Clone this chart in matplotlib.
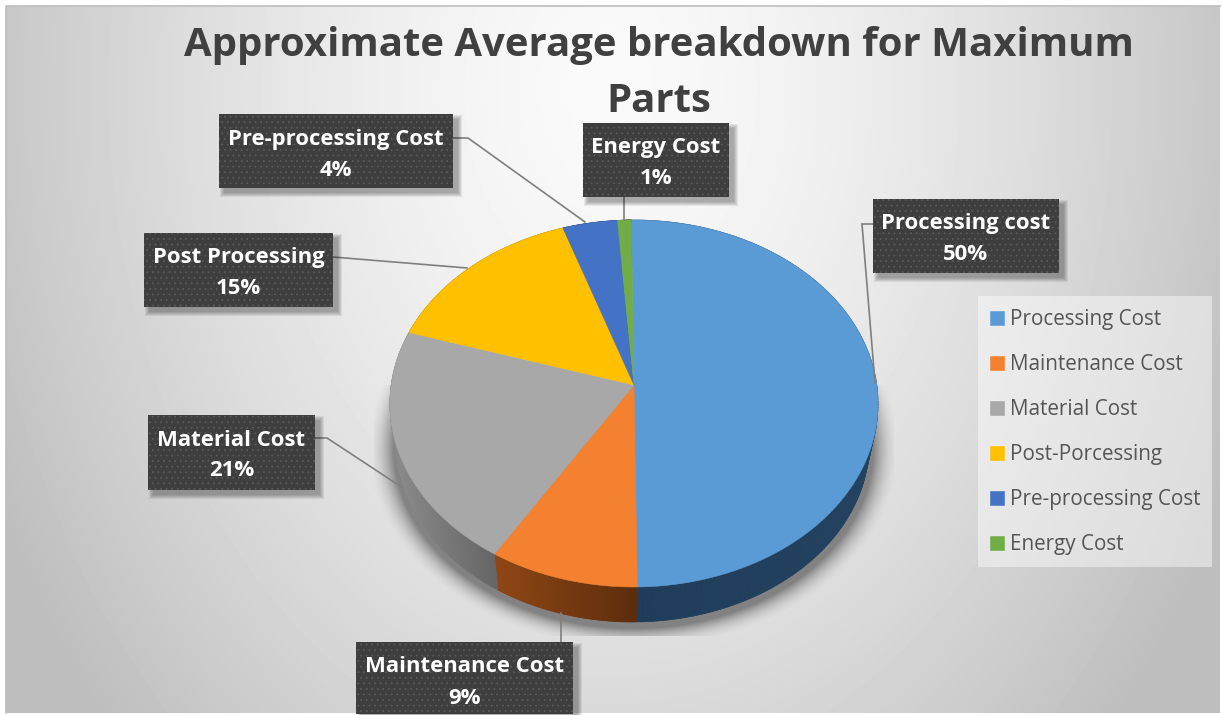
import matplotlib
matplotlib.use('Agg')
import matplotlib.pyplot as plt
from matplotlib.patches import Polygon, Rectangle
import numpy as np

plt.rcParams['font.family'] = ['Open Sans', 'DejaVu Sans']
plt.rcParams['hatch.linewidth'] = 0.6

# data
legend_names = ['Processing Cost', 'Maintenance Cost', 'Material Cost',
                'Post-Porcessing', 'Pre-processing Cost', 'Energy Cost']
label_names = ['Processing cost', 'Maintenance Cost', 'Material Cost',
               'Post Processing', 'Pre-processing Cost', 'Energy Cost']
values = [50, 9, 21, 15, 4, 1]
title = 'Approximate Average breakdown for Maximum\nParts'

# style
colors = ['#5B9BD5', '#F4812F', '#A8A8A8', '#FFC000', '#4472C4', '#70AD47']
wall_left = ['#1F3D5A', '#8F4715', '#8C8C8C', '#A67C00', '#2C4A80', '#48702E']
wall_right = ['#234260', '#5C2D0C', '#666666', '#A67C00', '#2C4A80', '#48702E']

W, H = 1223, 715
fig = plt.figure(figsize=(W / 100, H / 100), dpi=100, facecolor='white')
ax = fig.add_axes([0, 0, 1, 1])


def reset_limits():
    ax.set_xlim(0, W)
    ax.set_ylim(H, 0)
    ax.set_aspect('auto')
    ax.axis('off')


# background
yy, xx = np.mgrid[6:713, 6:1220]
t = np.sqrt(((xx - 610) / 620) ** 2 + ((yy - 90) / 850) ** 2) ** 1.5
bg = np.clip(250 - 52 * t, 190, 250) / 255
ax.imshow(bg, cmap='gray', vmin=0, vmax=1, extent=(6, 1220, 713, 6),
          aspect='auto', zorder=0)
ax.plot([6, 6, 1220], [713, 6, 6], color='#bdbdbd', lw=1.2, zorder=1)

# soft shadow under the pie
sy, sx = np.mgrid[385:636, 374:894]
d = (np.sqrt(((sx - 633) / 240) ** 2 + ((sy - 447) / 181) ** 2) - 1) * 210
alpha = 0.42 * np.clip(1 - d / 24, 0, 1) ** 2
rgba = np.zeros(sx.shape + (4,))
rgba[..., 3] = alpha
ax.imshow(rgba, extent=(374, 894, 636, 385), aspect='auto', zorder=1.5)

# perspective map of the unit disc to the top face
cx, cy, k = 634, 385, 0.1008
bx, by = 242.8, 181.6
start = 90.7


def project(u, v):
    w = 1 + k * v
    return cx + bx * u / w, cy - by * v / w


# rim of the base: same ellipse scaled down and moved lower
def to_base(x, y):
    return 632 + (x - 633) * 236 / 244, 444 + (y - 403.5) * 178 / 183.5


# top face: pie wedges pushed through the perspective map
wedges, _ = ax.pie(values, colors=colors, startangle=start, counterclock=False,
                   radius=1, center=(0, 0), frame=True)
reset_limits()
faces = []
for i, (w, c) in enumerate(zip(wedges, colors)):
    th = np.radians(np.linspace(w.theta1, w.theta2, 200))
    w.remove()
    # walls first, drawn as strips so they can be shaded
    x, y = project(np.cos(th), np.sin(th))
    bxs, bys = to_base(x, y)
    c0 = np.array(matplotlib.colors.to_rgb(wall_left[i]))
    c1 = np.array(matplotlib.colors.to_rgb(wall_right[i]))
    lo, hi = x.min(), x.max()
    for j in range(0, len(th) - 1):
        f = ((x[j] + x[j + 1]) / 2 - lo) / max(hi - lo, 1)
        quad = [(x[j], y[j]), (x[j + 1], y[j + 1]),
                (bxs[j + 1], bys[j + 1]), (bxs[j], bys[j])]
        col = c0 + (c1 - c0) * f
        ax.add_patch(Polygon(quad, closed=True, fc=col, ec=col, lw=0.5, zorder=2))
    verts = np.column_stack([np.r_[cx, x], np.r_[cy, y]])
    p = Polygon(verts, closed=True, fc=c, ec=c, lw=0.4, zorder=3)
    ax.add_patch(p)
    faces.append(p)

# title
ax.text(659, 73.5, title, ha='center', va='center', fontsize=28.9, fontweight='bold',
        color='#404040', linespacing=1.58, zorder=6)

# data labels
boxes = [(873, 199, 186, 74), (356, 642, 217, 72), (148, 415, 167, 75),
         (144, 233, 189, 74), (219, 114, 234, 74), (583, 123, 146, 74)]
leaders = [[(873, 224), (862, 224), (875, 383)],
           [(561, 642), (561, 613)],
           [(315, 438), (327, 438), (403, 488)],
           [(333, 257), (467, 268)],
           [(453, 138), (468, 138), (585, 222)],
           [(624, 197), (624, 220)]]
for box, line, name, v in zip(boxes, leaders, label_names, values):
    lx, ly = zip(*line)
    ax.plot(lx, ly, color='#7f7f7f', lw=1.2, zorder=4, solid_joinstyle='miter')
    x0, y0, bw, bh = box
    for s in range(5):
        ax.add_patch(Rectangle((x0 + 5 - s, y0 + 5 - s), bw + 2 * s, bh + 2 * s,
                               fc='black', ec='none', alpha=0.07, zorder=4.5))
    ax.add_patch(Rectangle((x0, y0), bw, bh, fc='#3e3e3e', ec='#5a5a5a', lw=0,
                           hatch='...', zorder=5))
    ax.text(x0 + bw / 2, y0 + 25, name, ha='center', va='center', color='white',
            fontsize=15.9, fontweight='bold', zorder=6)
    ax.text(x0 + bw / 2, y0 + 56, f'{v}%', ha='center', va='center', color='white',
            fontsize=15.9, fontweight='bold', zorder=6)

# legend
ax.add_patch(Rectangle((978, 296), 234, 271, fc='white', ec='none', alpha=0.45, zorder=4))
leg = ax.legend(faces, legend_names, loc='upper left', bbox_to_anchor=(990, 309.5),
                bbox_transform=ax.transData, frameon=False, fontsize=14.85,
                handlelength=0.68, handleheight=0.68, handletextpad=0.3,
                labelspacing=1.16, borderpad=0, borderaxespad=0, labelcolor='#555555')
leg.set_zorder(6)

fig.savefig('out.png', dpi=100)
